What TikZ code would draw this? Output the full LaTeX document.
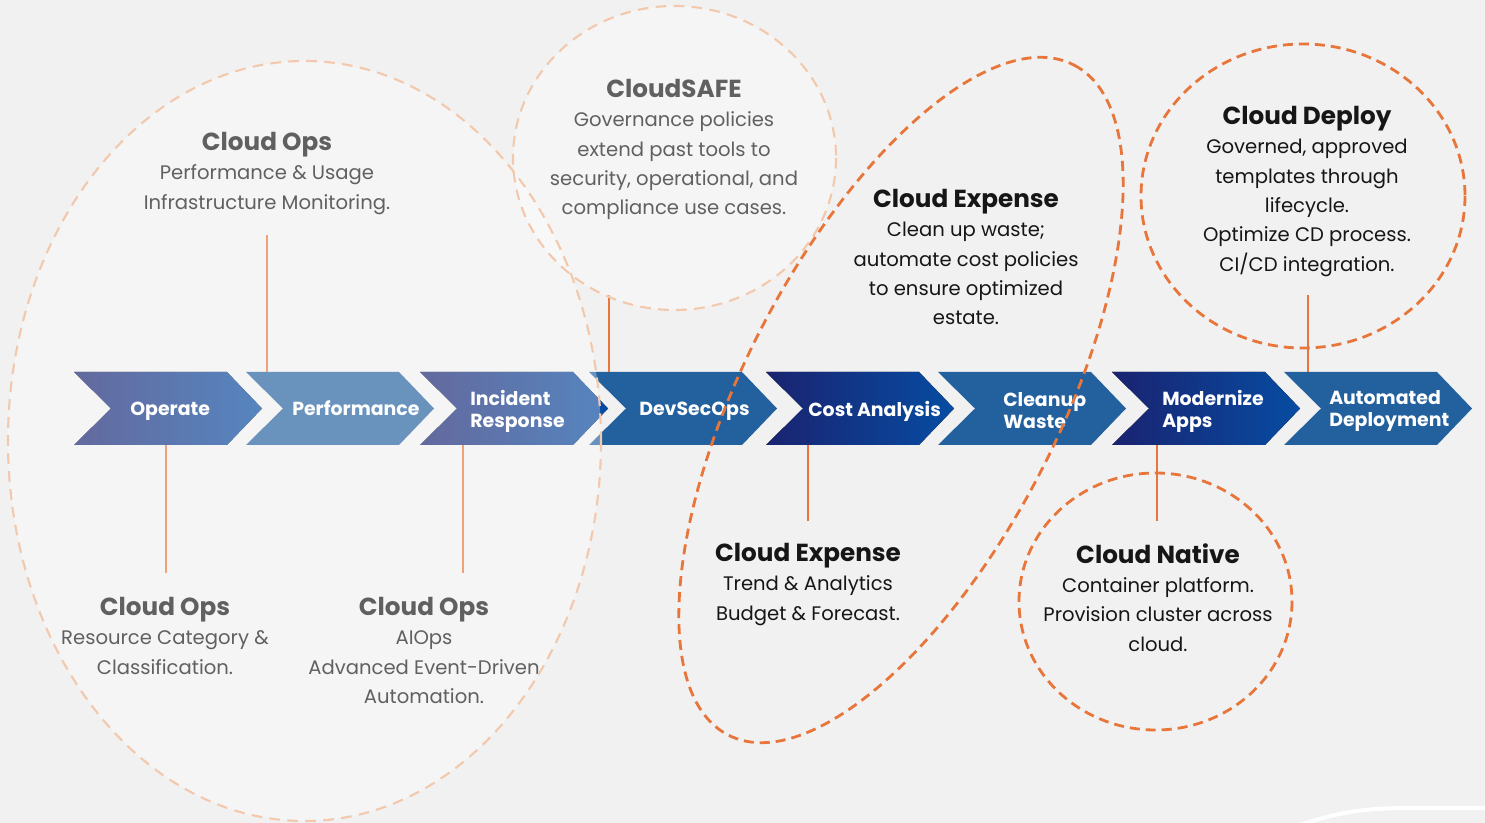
\documentclass[tikz,border=0pt]{standalone}
\usepackage{fontspec}
\setmainfont{Poppins}
\usepackage{xcolor}
\definecolor{BGCOLOR}{HTML}{F1F1F1}
\definecolor{LINKCOLOR}{HTML}{E8763A}
\definecolor{PALECOLOR}{HTML}{F3C9AD}
\definecolor{NAVYCOLOR}{HTML}{1A2370}
\definecolor{ROYALCOLOR}{HTML}{064CA2}
\definecolor{STEELCOLOR}{HTML}{22609E}
\definecolor{TEXTCOLOR}{HTML}{161616}
\usepackage{tikz}
\usetikzlibrary{positioning,calc}
\tikzset{
  grad-style/.style = {left color=NAVYCOLOR, right color=ROYALCOLOR},
  flat-style/.style = {fill=STEELCOLOR},
  chev-label/.style = {
    text=white, anchor=west, align=left, inner sep=0pt,
    font=\fontsize{14.2}{16.5}\selectfont\bfseries
  },
  info-style/.style = {
    text=TEXTCOLOR, anchor=north, align=center, inner sep=0pt,
    font=\fontsize{14.7}{22}\selectfont
  },
  link-style/.style = {draw=LINKCOLOR, line width=1.9pt},
  pale-fill/.style = {fill=white, fill opacity=0.32},
  pale-ring/.style = {draw=PALECOLOR, line width=1.6pt, dash pattern=on 8pt off 5.5pt},
  dark-ring/.style = {draw=LINKCOLOR, line width=2.1pt, dash pattern=on 7.5pt off 4.5pt}
}
\newcommand\head[1]{{\fontsize{18.5}{22}\selectfont\bfseries #1}}
% name, left x, fill style, label x, label
\newcommand\createChevron[5]{
  \fill[#3] (#2,372) -- ++(153,0) -- ++(35,36.5) -- ++(-35,36.5) -- ++(-153,0) -- ++(37,-36.5) -- cycle;
  \coordinate (#1-top) at (#2,372);
  \coordinate (#1-bot) at (#2,445);
  \node[chev-label] (#1) at (#4,411) {#5};
}

\begin{document}
\begin{tikzpicture}[x=0.75pt,y=-0.75pt]
    \useasboundingbox (0,0) rectangle (1485,823);
    \fill[BGCOLOR] (0,0) rectangle (1485,823);
    \draw[white, line width=3pt] (1300,825) .. controls (1345,810) and (1370,808) .. (1415,808) -- (1486,808);

    %%% connector ends
    \coordinate (lnkPerf) at (267,235);
    \coordinate (lnkRes) at (166,573);
    \coordinate (lnkAI) at (463,573);
    \coordinate (lnkSafe) at (609,295);
    \coordinate (lnkTrend) at (808,521);
    \coordinate (lnkNative) at (1157,521);
    \coordinate (lnkDeploy) at (1308,295);

    %%% chevrons
    \createChevron{opr}{74}{grad-style}{130}{Operate}
    \createChevron{perf}{246}{flat-style}{292}{Performance\vphantom{p}}
    \createChevron{inc}{420}{grad-style}{470}{Incident\\Response}
    \createChevron{dso}{589}{flat-style}{639}{DevSecOps}
    \createChevron{cost}{766}{grad-style}{808}{Cost Analysis}
    \createChevron{clean}{938}{flat-style}{1003}{Cleanup\\Waste}
    \createChevron{mod}{1112}{grad-style}{1162}{Modernize\\Apps}
    \createChevron{auto}{1284}{flat-style}{1329}{Automated\\Deployment}

    %%% links
    \draw[link-style] (lnkPerf) -- (lnkPerf |- perf-top);
    \draw[link-style] (lnkRes) -- (lnkRes |- opr-bot);
    \draw[link-style] (lnkAI) -- (lnkAI |- inc-bot);
    \draw[link-style] (lnkSafe) -- (lnkSafe |- dso-top);
    \draw[link-style] (lnkTrend) -- (lnkTrend |- cost-bot);
    \draw[link-style] (lnkNative) -- (lnkNative |- mod-bot);
    \draw[link-style] (lnkDeploy) -- (lnkDeploy |- auto-top);

    %%% texts
    \node[info-style] (opsPerf) at (267,132) {\head{Cloud Ops}\\Performance \& Usage\\Infrastructure Monitoring.};
    \node[info-style] (safe) at (674,79) {\head{CloudSAFE}\\Governance policies\\extend past tools to\\security, operational, and\\compliance use cases.};
    \node[info-style] (expClean) at (966,189) {\head{Cloud Expense}\\Clean up waste;\\automate cost policies\\to ensure optimized\\estate.};
    \node[info-style] (deploy) at (1307,106) {\head{Cloud Deploy}\\Governed, approved\\templates through\\lifecycle.\\Optimize CD process.\\CI/CD integration.};
    \node[info-style] (expTrend) at (808,543) {\head{Cloud Expense}\\Trend \& Analytics\\Budget \& Forecast.};
    \node[info-style] (native) at (1158,543) {\head{Cloud Native}\\Container platform.\\Provision cluster across\\cloud.};
    \node[info-style] (opsRes) at (165,597) {\head{Cloud Ops}\\Resource Category \&\\Classification.};
    \node[info-style] (opsAI) at (424,597) {\head{Cloud Ops}\\AIOps\\Advanced Event-Driven\\Automation.};

    %%% pale groups
    \path[pale-fill] (304.5,441) ellipse [x radius=296.5, y radius=380];
    \path[pale-fill] (674.5,158) ellipse [x radius=161.5, y radius=152];
    \draw[pale-ring] (304.5,441) ellipse [x radius=296.5, y radius=380];
    \draw[pale-ring] (674.5,158) ellipse [x radius=161.5, y radius=152];

    %%% orange groups
    \draw[dark-ring, rotate around={62.7:(901,400)}] (901,400) ellipse [x radius=377, y radius=157];
    \draw[dark-ring] (1303,196) ellipse [x radius=162, y radius=152];
    \draw[dark-ring] (1155.5,601.5) ellipse [x radius=136.5, y radius=128.5];
\end{tikzpicture}
\end{document}
